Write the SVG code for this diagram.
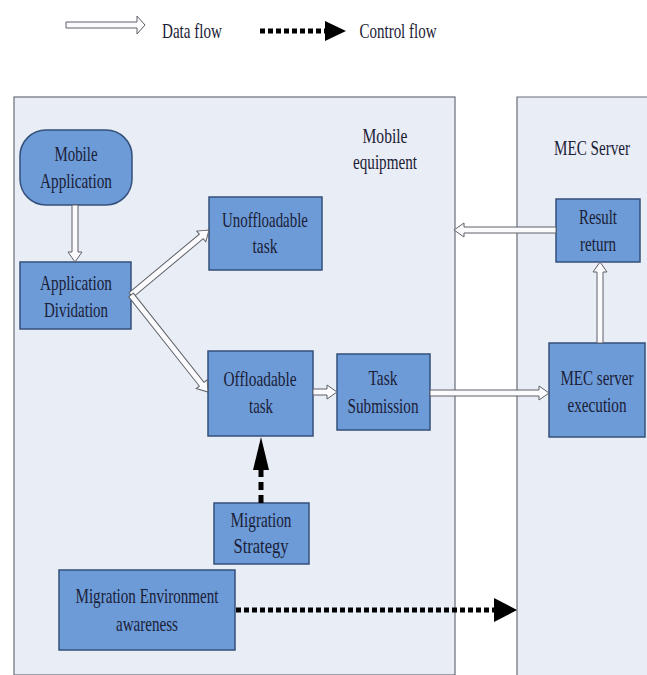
<svg xmlns="http://www.w3.org/2000/svg" width="647" height="675" viewBox="0 0 647 675" font-family="'Liberation Serif', 'Times New Roman', serif">
<style>
text{font-family:"Liberation Serif","Times New Roman",Times,serif;font-size:21px;fill:#1b2036;text-anchor:middle}
.panel{fill:#e9edf5;stroke:#6a6d75;stroke-width:1.2}
.box{fill:#6c9bd8;stroke:#34507a;stroke-width:1.5}
.ha{fill:#fbfbfd;stroke:#5e6068;stroke-width:1}
.ctl{stroke:#000;stroke-width:5;fill:none}
.head{fill:#000}
</style>
<rect width="647" height="675" fill="#ffffff"/>
<g id="legend">
<polygon class="ha" transform="translate(66,25)" points="0,-3 71,-3 71,-9 79,0 71,9 71,3 0,3"/>
<text x="192" y="38" textLength="60" lengthAdjust="spacingAndGlyphs">Data flow</text>
<line class="ctl" x1="260" y1="31" x2="326" y2="31" stroke-dasharray="5,3"/>
<polygon class="head" points="325,21 346,31 325,41"/>
<text x="398" y="38" textLength="77" lengthAdjust="spacingAndGlyphs">Control flow</text>
</g>
<g id="mobile-equipment">
<rect class="panel" x="14" y="97" width="441" height="578"/>
<text x="385" y="143" textLength="45" lengthAdjust="spacingAndGlyphs">Mobile</text>
<text x="385" y="169" textLength="64" lengthAdjust="spacingAndGlyphs">equipment</text>
</g>
<g id="mec-server">
<rect x="517" y="97" width="130" height="578" fill="#e9edf5"/>
<path d="M517,675 V97 H647" fill="none" stroke="#6a6d75" stroke-width="1.2"/>
<text x="592" y="155" textLength="76" lengthAdjust="spacingAndGlyphs">MEC Server</text>
</g>
<g id="mobile-application">
<rect class="box" x="20" y="130" width="112" height="75" rx="26" ry="26"/>
<text x="76" y="161" textLength="43" lengthAdjust="spacingAndGlyphs">Mobile</text>
<text x="76" y="188" textLength="72" lengthAdjust="spacingAndGlyphs">Application</text>
</g>
<g id="application-dividation">
<rect class="box" x="20" y="262" width="111" height="67"/>
<text x="76" y="290" textLength="72" lengthAdjust="spacingAndGlyphs">Application</text>
<text x="76" y="317" textLength="64" lengthAdjust="spacingAndGlyphs">Dividation</text>
</g>
<g id="unoffloadable-task">
<rect class="box" x="209" y="197" width="113" height="73"/>
<text x="265" y="227" textLength="86" lengthAdjust="spacingAndGlyphs">Unoffloadable</text>
<text x="265" y="253" textLength="25" lengthAdjust="spacingAndGlyphs">task</text>
</g>
<g id="offloadable-task">
<rect class="box" x="208" y="351" width="105" height="85"/>
<text x="260" y="386" textLength="73" lengthAdjust="spacingAndGlyphs">Offloadable</text>
<text x="261" y="413" textLength="24" lengthAdjust="spacingAndGlyphs">task</text>
</g>
<g id="task-submission">
<rect class="box" x="337" y="354" width="93" height="76"/>
<text x="383" y="385" textLength="29" lengthAdjust="spacingAndGlyphs">Task</text>
<text x="383" y="413" textLength="71" lengthAdjust="spacingAndGlyphs">Submission</text>
</g>
<g id="migration-strategy">
<rect class="box" x="214" y="503" width="95" height="61"/>
<text x="261" y="527" textLength="61" lengthAdjust="spacingAndGlyphs">Migration</text>
<text x="261" y="553" textLength="55" lengthAdjust="spacingAndGlyphs">Strategy</text>
</g>
<g id="migration-environment-awareness">
<rect class="box" x="59" y="570" width="176" height="80"/>
<text x="147" y="603" textLength="143" lengthAdjust="spacingAndGlyphs">Migration Environment</text>
<text x="147" y="631" textLength="62" lengthAdjust="spacingAndGlyphs">awareness</text>
</g>
<g id="result-return">
<rect class="box" x="556" y="199" width="84" height="63"/>
<text x="598" y="224" textLength="38" lengthAdjust="spacingAndGlyphs">Result</text>
<text x="598" y="251" textLength="36" lengthAdjust="spacingAndGlyphs">return</text>
</g>
<g id="mec-server-execution">
<rect class="box" x="549" y="343" width="96" height="94"/>
<text x="597" y="385" textLength="73" lengthAdjust="spacingAndGlyphs">MEC server</text>
<text x="597" y="412" textLength="59" lengthAdjust="spacingAndGlyphs">execution</text>
</g>
<g id="connectors">
<polygon class="ha" transform="translate(75,205) rotate(90)" points="0,-3 47,-3 47,-7 57,0 47,7 47,3 0,3"/>
<polygon class="ha" transform="translate(131,295) rotate(-39.8)" points="0,-3 91.5,-3 91.5,-7 101.5,0 91.5,7 91.5,3 0,3"/>
<polygon class="ha" transform="translate(131,295) rotate(51.6)" points="0,-3 113.8,-3 113.8,-7 123.8,0 113.8,7 113.8,3 0,3"/>
<polygon class="ha" transform="translate(313,392)" points="0,-3 14,-3 14,-7 24,0 14,7 14,3 0,3"/>
<polygon class="ha" transform="translate(430,393)" points="0,-3 109,-3 109,-7 119,0 109,7 109,3 0,3"/>
<polygon class="ha" transform="translate(600,343) rotate(-90)" points="0,-3 71,-3 71,-7 81,0 71,7 71,3 0,3"/>
<polygon class="ha" transform="translate(556,230) rotate(180)" points="0,-3 92,-3 92,-7 102,0 92,7 92,3 0,3"/>
<line class="ctl" x1="261" y1="503" x2="261" y2="468" stroke-dasharray="8,5"/>
<polygon class="head" points="261,437 253,470 269,470"/>
<line class="ctl" x1="236" y1="610" x2="497" y2="610" stroke-dasharray="5,3"/>
<polygon class="head" points="494,598 517,610 494,622"/>
</g>
</svg>
